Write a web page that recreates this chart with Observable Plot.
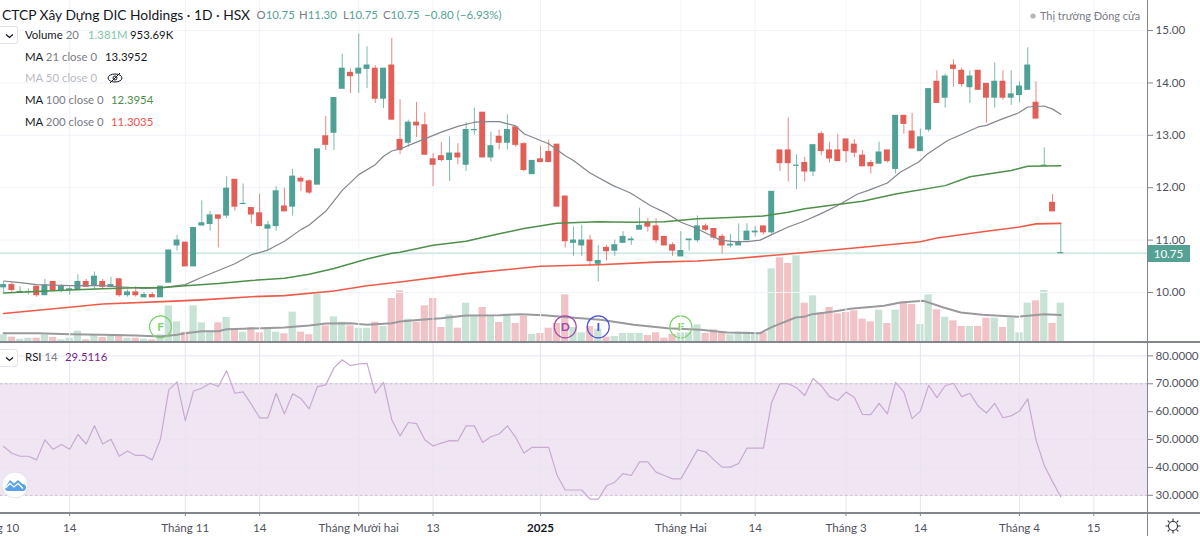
<!DOCTYPE html>
<html><head><meta charset="utf-8">
<script src="https://cdn.jsdelivr.net/npm/d3@7"></script>
<script src="https://cdn.jsdelivr.net/npm/@observablehq/plot@0.6"></script>
<style>
html,body{margin:0;padding:0;background:#fff;width:1200px;height:536px;overflow:hidden}
#root{position:relative;width:1200px;height:536px;overflow:hidden;font-family:Lato,sans-serif;color:#131722}
#root>svg{position:absolute;left:0}
.t{position:absolute;white-space:nowrap;line-height:16px}
.btn{position:absolute;left:0;width:18px;height:18px;border:1px solid #e0e3eb;border-left:none;border-radius:0 3px 3px 0;background:#fff;box-sizing:border-box}
.ln{position:absolute;background:#84868f}
</style></head><body><div id="root"></div>
<script>
const opens=[10.10,10.14,10.01,10.01,10.11,9.95,10.20,10.05,10.05,10.05,10.20,10.13,10.20,10.11,10.25,9.95,10.00,9.91,9.95,9.91,
10.19,10.90,10.95,10.50,11.28,11.31,11.47,11.47,12.15,11.69,11.61,11.51,11.22,11.27,11.64,11.64,12.17,12.12,12.06,12.98,
13.05,13.89,14.19,14.18,14.27,14.27,13.70,14.33,12.91,12.86,13.24,13.19,12.54,12.60,12.53,12.65,12.44,13.10,13.43,12.58,
12.97,12.86,13.15,12.83,12.26,12.54,12.68,12.82,11.83,10.95,10.90,10.99,10.55,10.85,10.80,10.95,11.00,11.20,11.32,11.26,
11.06,10.90,10.69,11.00,11.00,11.26,11.21,11.06,10.90,10.90,11.00,11.15,11.26,11.15,12.71,12.71,12.42,12.47,12.31,13.02,
12.71,12.71,12.92,12.82,12.61,12.47,12.46,12.71,12.36,13.37,13.07,12.70,13.11,14.02,13.72,14.33,14.23,13.92,14.23,13.98,
13.72,14.02,13.72,13.77,13.87,13.62,12.42,11.71,10.75];
const closes=[10.14,10.05,10.01,10.01,9.95,10.13,10.05,10.11,10.06,10.20,10.11,10.30,10.11,10.14,9.95,10.00,9.95,9.95,9.91,10.11,
10.80,10.99,10.50,11.23,11.32,11.47,11.41,11.98,11.64,11.69,11.49,11.27,11.28,11.93,11.55,12.21,12.12,11.91,12.73,12.82,
13.71,14.27,14.13,14.27,14.33,13.70,14.27,13.30,12.72,13.24,13.19,12.63,12.44,12.53,12.65,12.58,13.10,13.10,12.58,12.79,
12.86,13.10,12.82,12.34,12.51,12.49,12.49,11.64,10.98,10.99,10.99,10.60,10.60,10.79,10.90,11.06,11.01,11.27,11.26,11.00,
10.90,10.80,10.79,11.01,11.26,11.20,11.05,10.90,10.91,10.95,11.16,11.16,11.15,11.92,12.47,12.47,12.42,12.31,12.81,12.70,
12.56,12.51,12.70,12.67,12.41,12.41,12.67,12.51,13.37,13.22,12.75,12.96,13.88,13.62,14.12,14.27,13.98,14.12,13.87,13.72,
14.02,13.72,13.78,13.93,14.33,13.32,12.42,11.55,10.75];
const highs=[10.20,10.20,10.11,10.07,10.11,10.25,10.20,10.15,10.10,10.34,10.25,10.39,10.25,10.29,10.25,10.05,10.11,10.00,10.00,10.11,
10.80,11.09,10.95,11.23,11.75,11.55,11.47,12.21,12.15,12.07,11.61,11.88,11.36,12.02,11.99,12.35,12.21,12.15,12.73,13.36,
13.71,14.55,14.27,14.93,14.69,14.33,14.27,14.85,13.68,13.29,13.63,13.43,12.65,12.87,12.97,12.84,13.24,13.52,13.43,13.06,
13.10,13.39,13.15,12.86,12.51,12.79,12.91,12.82,11.83,11.25,11.28,11.09,10.90,10.90,11.00,11.16,11.06,11.61,11.41,11.41,
11.06,10.95,11.16,11.01,11.46,11.31,11.21,11.11,11.11,11.31,11.31,11.26,11.26,11.92,12.71,13.33,12.63,12.58,12.81,13.07,
12.87,13.02,12.92,12.92,12.71,12.52,12.87,12.71,13.37,13.37,13.42,13.12,13.88,14.23,14.17,14.44,14.28,14.23,14.23,13.98,
14.38,14.23,14.23,14.02,14.67,14.02,12.76,11.87,11.30];
const lows=[10.00,9.99,10.00,9.95,9.91,9.95,10.05,10.00,9.95,10.05,10.11,10.05,10.07,10.11,9.91,9.91,9.91,9.91,9.91,9.91,
10.19,10.79,10.50,10.50,11.28,11.17,10.85,11.41,11.55,11.69,11.31,11.27,10.80,11.17,11.55,11.46,11.93,11.87,12.06,12.71,
12.71,13.89,13.80,13.80,13.89,13.61,13.51,13.30,12.63,12.77,12.96,12.63,12.02,12.49,12.12,12.44,12.31,13.00,12.58,12.49,
12.72,12.72,12.77,12.30,12.26,12.49,12.49,11.64,10.85,10.69,10.69,10.50,10.20,10.60,10.69,10.95,10.90,11.20,11.15,10.94,
10.90,10.69,10.69,10.79,10.95,11.16,11.00,10.74,10.85,10.90,11.00,11.06,11.10,11.10,12.31,12.11,11.96,12.11,12.21,12.61,
12.47,12.51,12.47,12.57,12.41,12.26,12.46,12.47,12.26,13.02,12.75,12.70,13.06,13.62,13.52,13.92,13.92,13.61,13.87,13.23,
13.52,13.67,13.57,13.62,13.87,13.32,12.42,11.55,10.75];
const volumes=[240,156,84,120,120,228,144,60,120,372,60,240,144,216,240,120,120,84,60,240,
1284,708,336,1284,672,336,672,864,444,336,504,312,504,336,276,1056,336,240,1704,564,
888,696,564,480,480,696,540,1548,1824,804,696,1284,1548,504,960,480,1380,900,1224,924,
684,984,648,900,252,288,480,648,1680,504,312,540,444,156,180,288,288,288,216,312,
120,252,312,312,600,288,420,336,240,336,336,300,312,2616,3012,2808,3084,1380,1644,1020,
1224,996,1044,1104,804,708,1128,648,1128,1404,1332,612,1680,1140,876,744,540,540,540,840,
840,504,840,312,1380,1464,1836,648,1381];
const rsi=[47.5,45.1,44,44,42.7,49.9,46.5,48.2,46.5,51.8,48.4,54.9,48.4,50.1,44,45.9,44.3,44.3,42.7,50.2,
67.8,70.7,56.8,67.4,68.4,70.2,69,74.7,66.6,67.1,62.6,57.8,57.8,66.6,59.2,66.4,64.7,61,69,69.6,
75.7,78.6,76.5,77.1,77.3,66.6,70.5,57.1,51.3,56.1,55.7,49.9,47.7,48.7,49.6,49.5,54.9,54.9,48.9,51,
52,54.9,50.8,45.2,47.2,47.2,47.2,37.3,31.9,31.9,31.9,28.6,28.6,33.4,34.7,37.8,37.1,42,42,38.3,
37.1,35.9,35.9,41,46.3,45.6,42.7,40.1,40.1,41.4,46.9,46.9,46.9,63.4,70,70,68.6,65.8,71.9,69.3,
65.4,64,67,65.2,59,58.9,63,59.2,70.5,67,57.5,60.2,69.4,65,69.3,70.2,65.4,66.6,62,59.5,
63,57.8,58.5,60.2,64.6,49.9,40.7,34.9,29.5];
const ma21=[[0,10.22],[2,10.19],[4,10.15],[8,10.13],[12,10.13],[15,10.10],[17,10.08],[19,10.09],[22,10.15],[24,10.29],[26,10.42],[28,10.55],[30,10.72],[32,10.81],[34,10.98],[36,11.2],[37,11.29],[39,11.55],[41,11.95],[43,12.25],[45,12.44],[46,12.6],[47,12.7],[48,12.74],[50,12.87],[53,13.06],[55,13.17],[57,13.25],[59,13.26],[60,13.26],[62,13.18],[63,13.03],[65,12.9],[66,12.84],[68,12.61],[69,12.52],[71,12.28],[73.8,12.04],[74.7,11.98],[75.9,11.9],[78.3,11.66],[80.4,11.5],[82,11.34],[83.5,11.25],[85.2,11.12],[86.8,11.0],[88.4,10.97],[90,10.97],[91.6,11.0],[92.8,11.09],[95,11.25],[96.9,11.36],[98.9,11.5],[101,11.66],[103.4,11.88],[104.7,11.95],[107,12.09],[108.6,12.3],[110.8,12.49],[111.9,12.65],[114.3,12.9],[115.9,13.01],[118,13.16],[119,13.19],[120.7,13.3],[122.9,13.43],[124,13.54],[126,13.56],[127,13.5],[128,13.40]];
const ma100=[[0,9.99],[4,10.02],[8,10.05],[12,10.07],[16,10.09],[19,10.09],[22,10.13],[26,10.17],[30,10.23],[34,10.27],[37,10.35],[40,10.46],[44,10.64],[47,10.75],[48,10.77],[52,10.9],[56,10.98],[60,11.12],[63,11.22],[67,11.32],[72,11.35],[76,11.34],[80,11.35],[84,11.41],[88,11.43],[92,11.46],[95,11.53],[97,11.6],[100,11.66],[104,11.74],[108,11.88],[114,12.04],[117,12.21],[122,12.33],[124,12.41],[128,12.42]];
const ma200=[[0,9.6],[8,9.72],[12,9.78],[20,9.83],[24,9.86],[30,9.92],[34,9.94],[40,10.03],[44,10.13],[48,10.2],[56,10.36],[65,10.5],[72,10.53],[79,10.58],[84,10.6],[88,10.64],[94,10.72],[103,10.85],[111,10.97],[113,11.04],[119,11.17],[123,11.25],[125,11.31],[128,11.32]];
const volMa=[[0,300],[4,300],[8,264],[12,240],[16,216],[19,180],[21,240],[22,300],[24,372],[26,372],[27,444],[30,468],[34,504],[37,576],[39,648],[42,660],[44,600],[47,660],[48,720],[50.5,780],[53,840],[56,936],[60,948],[62.6,984],[65.4,948],[68.3,876],[72.3,780],[76.3,600],[80.4,480],[84.4,420],[87.6,324],[91.6,300],[93,516],[95.9,864],[96.9,888],[97.9,984],[100.5,1080],[102.5,1176],[106.6,1284],[108.6,1404],[111.4,1464],[113.8,1224],[115.9,1044],[118.5,960],[122.7,888],[126,984],[128,955]];
const xTicks=[-1,8,22,31,43,52,65,82,91,102,111,123,132];
const xLabels=["Tháng 10","14","Tháng 11","14","Tháng Mười hai","13","2025","Tháng Hai","14","Tháng 3","14","Tháng 4","15"];
const priceTicks=[10,11,12,13,14,15];
const rsiTicks=[30,40,50,60,70,80];
const events=[{i:19,t:"F",c:"#79d668"},{i:68,t:"D",c:"#a24aa8"},{i:72,t:"I",c:"#4a50d8"},{i:82,t:"F",c:"#79d668"}];

const TEAL="#4fa195",RED="#e25f57";
const bars=opens.map((o,i)=>({i,o,c:closes[i],h:highs[i],l:lows[i],v:volumes[i],up:closes[i]>=o}));
const xOpt={type:"linear",domain:[-0.375,138.5],range:[0,1147]};
const pts=a=>a.map(([i,v])=>({i,v}));
const AXC="#50535e";
const grid="#f0f3fa";
const axisFont="11.6px";

const price=Plot.plot({width:1200,height:341,marginLeft:0,marginRight:53,marginTop:0,marginBottom:0,
 style:{fontFamily:"Lato,sans-serif",fontSize:axisFont,color:AXC,background:"transparent"},
 x:{...xOpt,axis:null},y:{domain:[9.065,15.573]},
 marks:[
  Plot.ruleX(xTicks,{stroke:grid}),
  Plot.ruleY(priceTicks,{stroke:grid}),
  Plot.ruleY([closes.at(-1)],{stroke:"#d3eae5",strokeWidth:2}),
  Plot.axisY({anchor:"right",ticks:priceTicks,tickFormat:d=>d.toFixed(2),tickSize:5,tickPadding:3,label:null,stroke:"#84868f"}),
  Plot.ruleX(bars,{x:"i",y1:"l",y2:"h",stroke:d=>d.up?TEAL:RED,strokeOpacity:.75}),
  Plot.rect(bars,{x1:d=>d.i-.36,x2:d=>d.i+.36,y1:d=>Math.min(d.o,d.c),y2:d=>Math.max(d.o,d.c),fill:d=>d.up?TEAL:RED,insetTop:-.6,insetBottom:-.6}),
  Plot.line(pts(ma21),{x:"i",y:"v",stroke:"#83868e",strokeWidth:1.2}),
  Plot.line(pts(ma100),{x:"i",y:"v",stroke:"#4e8f4a",strokeWidth:1.5}),
  Plot.line(pts(ma200),{x:"i",y:"v",stroke:"#ef5a48",strokeWidth:1.6})
 ]});

const vol=Plot.plot({width:1200,height:341,marginLeft:0,marginRight:53,marginTop:0,marginBottom:0,
 style:{fontFamily:"Lato,sans-serif",background:"transparent"},
 x:{...xOpt,axis:null},y:{domain:[0,12276],axis:null},
 marks:[
  Plot.rect(bars,{x1:d=>d.i-.44,x2:d=>d.i+.44,y1:0,y2:"v",fill:d=>d.up?"#c8e3d6":"#f2c3c6"}),
  Plot.line(pts(volMa),{x:"i",y:"v",stroke:"#9a9a9e",strokeWidth:2}),
  Plot.dot(events,{x:"i",y:()=>529,r:11,stroke:"c",fill:"none",strokeWidth:1.2}),
  Plot.text(events,{x:"i",y:()=>529,text:"t",fill:"c",fontSize:12,fontWeight:700})
 ]});

const rsiPlot=Plot.plot({width:1200,height:194,marginLeft:0,marginRight:53,marginTop:0,marginBottom:24,
 style:{fontFamily:"Lato,sans-serif",fontSize:axisFont,color:AXC,background:"transparent"},
 x:{...xOpt},y:{domain:[23.83,84.8]},
 marks:[
  Plot.rectY([0],{x1:-0.375,x2:138.5,y1:30,y2:70,fill:"#f0e6f3"}),
  Plot.ruleX(xTicks,{stroke:"#e6e3ef"}),
  Plot.ruleY(rsiTicks,{stroke:"#e9e4f0"}),
  Plot.ruleY([30,70],{stroke:"#c9bccb",strokeDasharray:"2.5,2.5"}),
  Plot.axisY({anchor:"right",ticks:rsiTicks,tickFormat:d=>d.toFixed(4),tickSize:5,tickPadding:3,label:null,stroke:"#84868f"}),
  Plot.axisX({ticks:xTicks,tickFormat:d=>xLabels[xTicks.indexOf(d)],tickSize:4,tickPadding:7,label:null,stroke:"#84868f"}),
  Plot.line(rsi.map((v,i)=>({i,v})),{x:"i",y:"v",stroke:"#c9a8d4",strokeWidth:1.2})
 ]});

const root=document.getElementById("root");
vol.style.top="0";price.style.top="0";rsiPlot.style.top="342px";
root.append(vol,price,rsiPlot);
rsiPlot.querySelectorAll("text").forEach(t=>{if(t.textContent==="2025"){t.style.fontWeight="700";t.style.fill="#131722";}});

function T(x,y,s,c,size,extra){const d=document.createElement("div");d.className="t";d.textContent=s;
 d.style.cssText+=`left:${x}px;top:${y-8}px;color:${c};font-size:${size}px;${extra||""}`;root.append(d);return d;}
function L(l,t,w,h){const d=document.createElement("div");d.className="ln";d.style.cssText+=`left:${l}px;top:${t}px;width:${w}px;height:${h}px`;root.append(d);}
L(0,341,1200,1.5);L(0,512,1200,1.5);L(1146.5,0,1.5,536);
const G="#787b86",UP="#53a294",FS=11.4;
T(2,15,"CTCP Xây Dựng DIC Holdings · 1D · HSX","#131722",13.8);
[[256.5,"O","10.75"],[299,"H","11.30"],[343,"L","10.75"],[383,"C","10.75"]].forEach(([x,a,b])=>{
 const d=T(x,15,a,G,11.4);const s=document.createElement("span");s.textContent=b;s.style.color=UP;d.append(s);});
T(424,15,"−0.80 (−6.93%)",UP,11.6);
function M(y,a,b){const d=T(25,y,a,"#131722",FS);const s=document.createElement("span");s.textContent=" "+b;s.style.color=G;d.append(s);}
M(35,"Volume","20");T(88,35,"1.381M","#7fc7a6",FS);T(130,35,"953.69K","#131722",FS);
M(57,"MA","21 close 0");T(105,57,"13.3952","#131722",FS);
T(25,78,"MA 50 close 0","#b8bac2",FS);
M(100,"MA","100 close 0");T(111,100,"12.3954","#4e8f4a",FS);
M(122,"MA","200 close 0");T(111,122,"11.3035","#ef5350",FS);
T(1040,16,"Thị trường Đóng cửa","#787b86",10.9);
M(357,"RSI","14");T(65,357,"29.5116","#7b1f8e",FS);
T(1147.5,252.7,closes.at(-1).toFixed(2),"#fff",11.6,"background:#53a294;width:42px;text-align:center;height:17px;line-height:17px;");

function B(y){const d=document.createElement("div");d.className="btn";d.style.top=y+"px";
 d.innerHTML='<svg width="18" height="18" style="position:absolute;left:0;top:0"><path d="M6 7.5l3.5 3 3.5-3" fill="none" stroke="#131722" stroke-width="1.3"/></svg>';root.append(d);}
B(26);B(349);
root.insertAdjacentHTML("beforeend",`
<svg style="left:1030px;top:13px" width="6" height="6"><circle cx="3" cy="3" r="2.6" fill="#b2b5be"/></svg>
<svg style="left:106px;top:70px" width="18" height="16" fill="none" stroke="#131722"><ellipse cx="9" cy="8" rx="7" ry="4"/><circle cx="9" cy="8" r="2"/><path d="M4 13l10-10"/></svg>
<svg style="left:0;top:470px" width="30" height="30"><circle cx="15" cy="15" r="13" fill="#fff" stroke="#e4e5ea"/><path d="M5 18L10 10L14 13.500L18 10L22.500 14a3.500 3.500 0 0 1 0 7H8a3.200 3.200 0 0 1-3-3z" fill="#5aa3ea"/><path d="M5.500 18L10 13.500L14 17L18 13.500L23 18.500" stroke="#fff" fill="none" stroke-width="1.300"/></svg>
<svg style="left:1164px;top:517px" width="18" height="18" fill="none" stroke="#2a2e39" stroke-width="1.100"><circle cx="9" cy="9" r="4.500"/><path d="M9 1.500v2.500M9 14v2.500M1.500 9H4M14 9h2.500M3.700 3.700l1.700 1.700M12.600 12.600l1.700 1.700M14.300 3.700l-1.700 1.700M5.400 12.600l-1.700 1.700"/></svg>`);
</script></body></html>
